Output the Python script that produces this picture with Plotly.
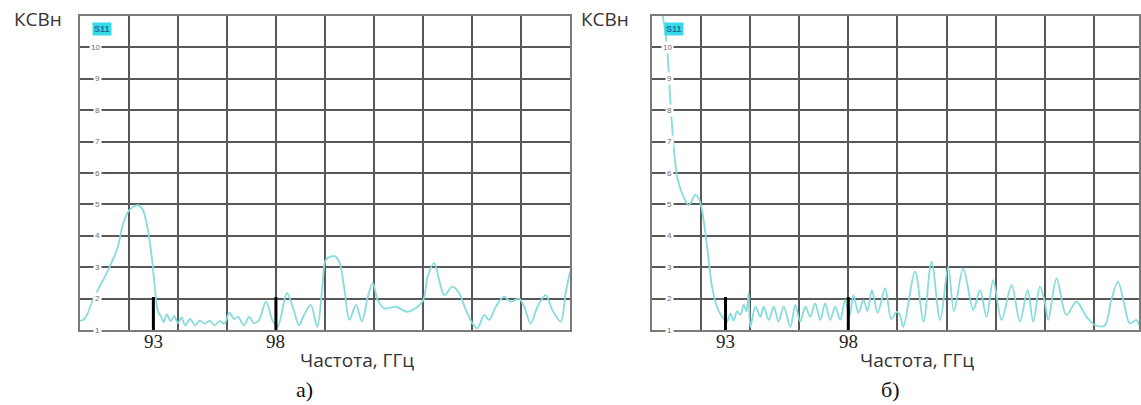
import plotly.graph_objects as go

W, H = 1141, 405

# ---- data -------------------------------------------------------------
freq_a = [90.0, 90.15, 90.3, 90.5, 90.75, 91.15, 91.55, 91.75, 92.0, 92.35, 92.55, 92.75,
          92.93, 93.07, 93.18, 93.3, 93.42, 93.55, 93.7, 93.85, 94.0, 94.15, 94.3, 94.5,
          94.7, 94.9, 95.1, 95.3, 95.5, 95.7, 95.9, 96.1, 96.3, 96.45, 96.7, 96.9, 97.1,
          97.3, 97.6, 97.86, 98.07, 98.45, 98.74, 98.94, 99.15, 99.42, 99.69, 99.9, 100.05,
          100.4, 100.6, 100.8, 101.0, 101.27, 101.51, 101.75, 101.95, 102.15, 102.42, 102.9,
          103.37, 103.98, 104.19, 104.46, 104.66, 104.87, 105.2, 105.48, 105.75, 106.02,
          106.22, 106.5, 106.7, 106.97, 107.31, 107.58, 107.92, 108.13, 108.4, 108.67,
          109.01, 109.28, 109.62, 109.82, 110.0]
vswr_a = [1.3, 1.33, 1.5, 1.9, 2.3, 2.9, 3.65, 4.35, 4.8, 4.98, 4.85, 4.3,
          3.35, 2.27, 1.6, 1.45, 1.25, 1.5, 1.28, 1.45, 1.22, 1.4, 1.15, 1.35,
          1.15, 1.3, 1.2, 1.3, 1.15, 1.28, 1.2, 1.55, 1.35, 1.42, 1.15, 1.42, 1.22,
          1.3, 1.9, 1.3, 1.1, 2.17, 1.6, 1.15, 1.48, 1.8, 1.1, 2.4, 3.25,
          3.35, 3.13, 2.27, 1.32, 1.8, 1.27, 2.06, 2.49, 1.96, 1.69, 1.74,
          1.58, 1.9, 2.7, 3.14, 2.59, 2.11, 2.38, 2.17, 1.64, 1.21,
          1.05, 1.48, 1.32, 1.74, 2.06, 1.9, 2.0, 1.74, 1.21, 1.74,
          2.11, 1.64, 1.27, 2.17, 2.86]

freq_b = [90.0, 90.4, 90.56, 90.62, 90.76, 90.89, 91.03, 91.23, 91.5, 91.77, 91.91, 92.04,
          92.25, 92.45, 92.65, 92.86, 93.06, 93.2, 93.33, 93.47, 93.61, 93.74, 93.85, 93.94,
          94.01, 94.22, 94.42, 94.55, 94.76, 94.96, 95.16, 95.37, 95.64, 95.84, 96.04, 96.25,
          96.45, 96.65, 96.86, 97.06, 97.26, 97.47, 97.67, 97.87, 98.05, 98.21, 98.41, 98.62,
          98.78, 98.96, 99.2, 99.5, 99.75, 99.97, 100.1, 100.24, 100.72, 101.06, 101.39,
          101.74, 102.07, 102.3, 102.68, 103.09, 103.36, 103.63, 103.9, 104.24, 104.65,
          104.99, 105.3, 105.53, 105.8, 106.0, 106.14, 106.48, 106.88, 107.29, 107.7,
          108.04, 108.44, 108.71, 108.98, 109.26, 109.46, 109.73, 109.84]
vswr_b = [12.5, 11.2, 10.4, 10.0, 8.2, 6.84, 5.88, 5.35, 4.98, 5.3, 5.2, 4.82,
          3.65, 2.38, 1.74, 1.42, 1.27, 1.53, 1.3, 1.6, 1.48, 1.8, 1.6, 2.17,
          1.1, 1.75, 1.42, 1.74, 1.32, 1.74, 1.27, 1.74, 1.1, 1.8, 1.27, 1.74,
          1.42, 1.85, 1.32, 1.85, 1.32, 1.74, 1.32, 1.96, 1.45, 2.11, 1.55, 1.95,
          1.6, 2.27, 1.55, 2.33, 1.35, 1.58, 1.48, 1.1, 2.86, 1.27, 3.18,
          1.32, 3.02, 1.6, 2.96, 1.64, 2.27, 1.42, 2.59, 1.32, 2.43,
          1.27, 2.27, 1.27, 2.38, 1.9, 1.32, 2.64, 1.48, 1.9, 1.42,
          1.16, 1.14, 1.96, 2.54, 1.74, 1.21, 1.32, 1.15]

marker_freqs = [93, 98]
marker_labels = ["93", "98"]
y_ticks = [1, 2, 3, 4, 5, 6, 7, 8, 9, 10]
y_tick_labels = ["1", "2", "3", "4", "5", "6", "7", "8", "9", "10"]
y_label = "КСВн"
x_label = "Частота, ГГц"
trace_label = "S11"
panel_labels = ["а)", "б)"]

# ---- style ------------------------------------------------------------
CURVE = "#86dcdc"
GRID = "#585858"
FRAME = "#7a7a7a"
ydom = [75 / H, 389 / H]
panels = [
    dict(xax="x", yax="y", dom=[80 / W, 571 / W], rng=[90, 110], f=freq_a, v=vswr_a,
         left=80, ylab_x=38, xlab_x=358, plab_x=305, s11_x=102),
    dict(xax="x2", yax="y2", dom=[653 / W, 1.0], rng=[90, 90 + (W - 653) / 24.6], f=freq_b, v=vswr_b,
         left=653, ylab_x=606, xlab_x=919, plab_x=892, s11_x=675),
]

fig = go.Figure()
annotations = []
for i, p in enumerate(panels):
    fig.add_trace(go.Scatter(x=p["f"], y=p["v"], mode="lines", xaxis=p["xax"], yaxis=p["yax"],
                             line=dict(color=CURVE, width=1.8, shape="spline", smoothing=0.9),
                             showlegend=False, hoverinfo="skip"))
    for mf in marker_freqs:
        fig.add_trace(go.Scatter(x=[mf, mf], y=[1, 2.05], mode="lines", xaxis=p["xax"], yaxis=p["yax"],
                                 line=dict(color="black", width=3), showlegend=False, hoverinfo="skip"))
    sfx = "" if i == 0 else "2"
    fig.update_layout(**{
        "xaxis" + sfx: dict(domain=p["dom"], range=p["rng"], tick0=90, dtick=2, showticklabels=False,
                            ticks="", showgrid=True, gridcolor=GRID, gridwidth=1.8, zeroline=False,
                            showline=True, linecolor=FRAME, linewidth=2, mirror=True,
                            anchor="y" + sfx, fixedrange=True),
        "yaxis" + sfx: dict(domain=ydom, range=[1, 11], tick0=1, dtick=1, showticklabels=False,
                            ticks="", showgrid=True, gridcolor=GRID, gridwidth=1.8, zeroline=False,
                            showline=True, linecolor=FRAME, linewidth=2, mirror=True,
                            anchor="x" + sfx, fixedrange=True),
    })
    for t, lab in zip(y_ticks, y_tick_labels):
        annotations.append(dict(x=(p["left"] + 22) / W, xref="paper", xanchor="right",
                                y=t, yref="y" + sfx, yanchor="middle", text=lab, showarrow=False,
                                font=dict(family="Arial, Liberation Sans", size=8, color="#6a6a6a"),
                                bgcolor="white", borderpad=1))
    for mf, ml in zip(marker_freqs, marker_labels):
        annotations.append(dict(x=mf, xref="x" + sfx, y=(H - 341) / H, yref="paper", text=ml,
                                showarrow=False, xanchor="center", yanchor="middle",
                                font=dict(family="Liberation Serif, Times New Roman, serif", size=19,
                                          color="#222222")))
    annotations.append(dict(x=p["ylab_x"] / W, xref="paper", y=(H - 19) / H, yref="paper",
                            text=y_label, showarrow=False, xanchor="center", yanchor="middle",
                            font=dict(family="Open Sans", size=19, color="#333333")))
    annotations.append(dict(x=p["xlab_x"] / W, xref="paper", y=(H - 360) / H, yref="paper",
                            text=x_label, showarrow=False, xanchor="center", yanchor="middle",
                            font=dict(family="Open Sans", size=19, color="#333333")))
    annotations.append(dict(x=p["plab_x"] / W, xref="paper", y=(H - 389) / H, yref="paper",
                            text=panel_labels[i], showarrow=False, xanchor="center", yanchor="middle",
                            font=dict(family="Liberation Serif, Times New Roman, serif", size=22,
                                      color="#111111")))
    annotations.append(dict(x=p["s11_x"] / W, xref="paper", y=(H - 29) / H, yref="paper",
                            text="<b>" + trace_label + "</b>", showarrow=False, xanchor="center",
                            yanchor="middle", bgcolor="#35dbe8", borderpad=1,
                            font=dict(family="Arial, Liberation Sans", size=9, color="#1f6f9f")))

fig.update_layout(width=W, height=H, margin=dict(l=0, r=0, t=0, b=0),
                  paper_bgcolor="white", plot_bgcolor="white", annotations=annotations,
                  showlegend=False)

fig.write_html("out.html", config={"displayModeBar": False})
